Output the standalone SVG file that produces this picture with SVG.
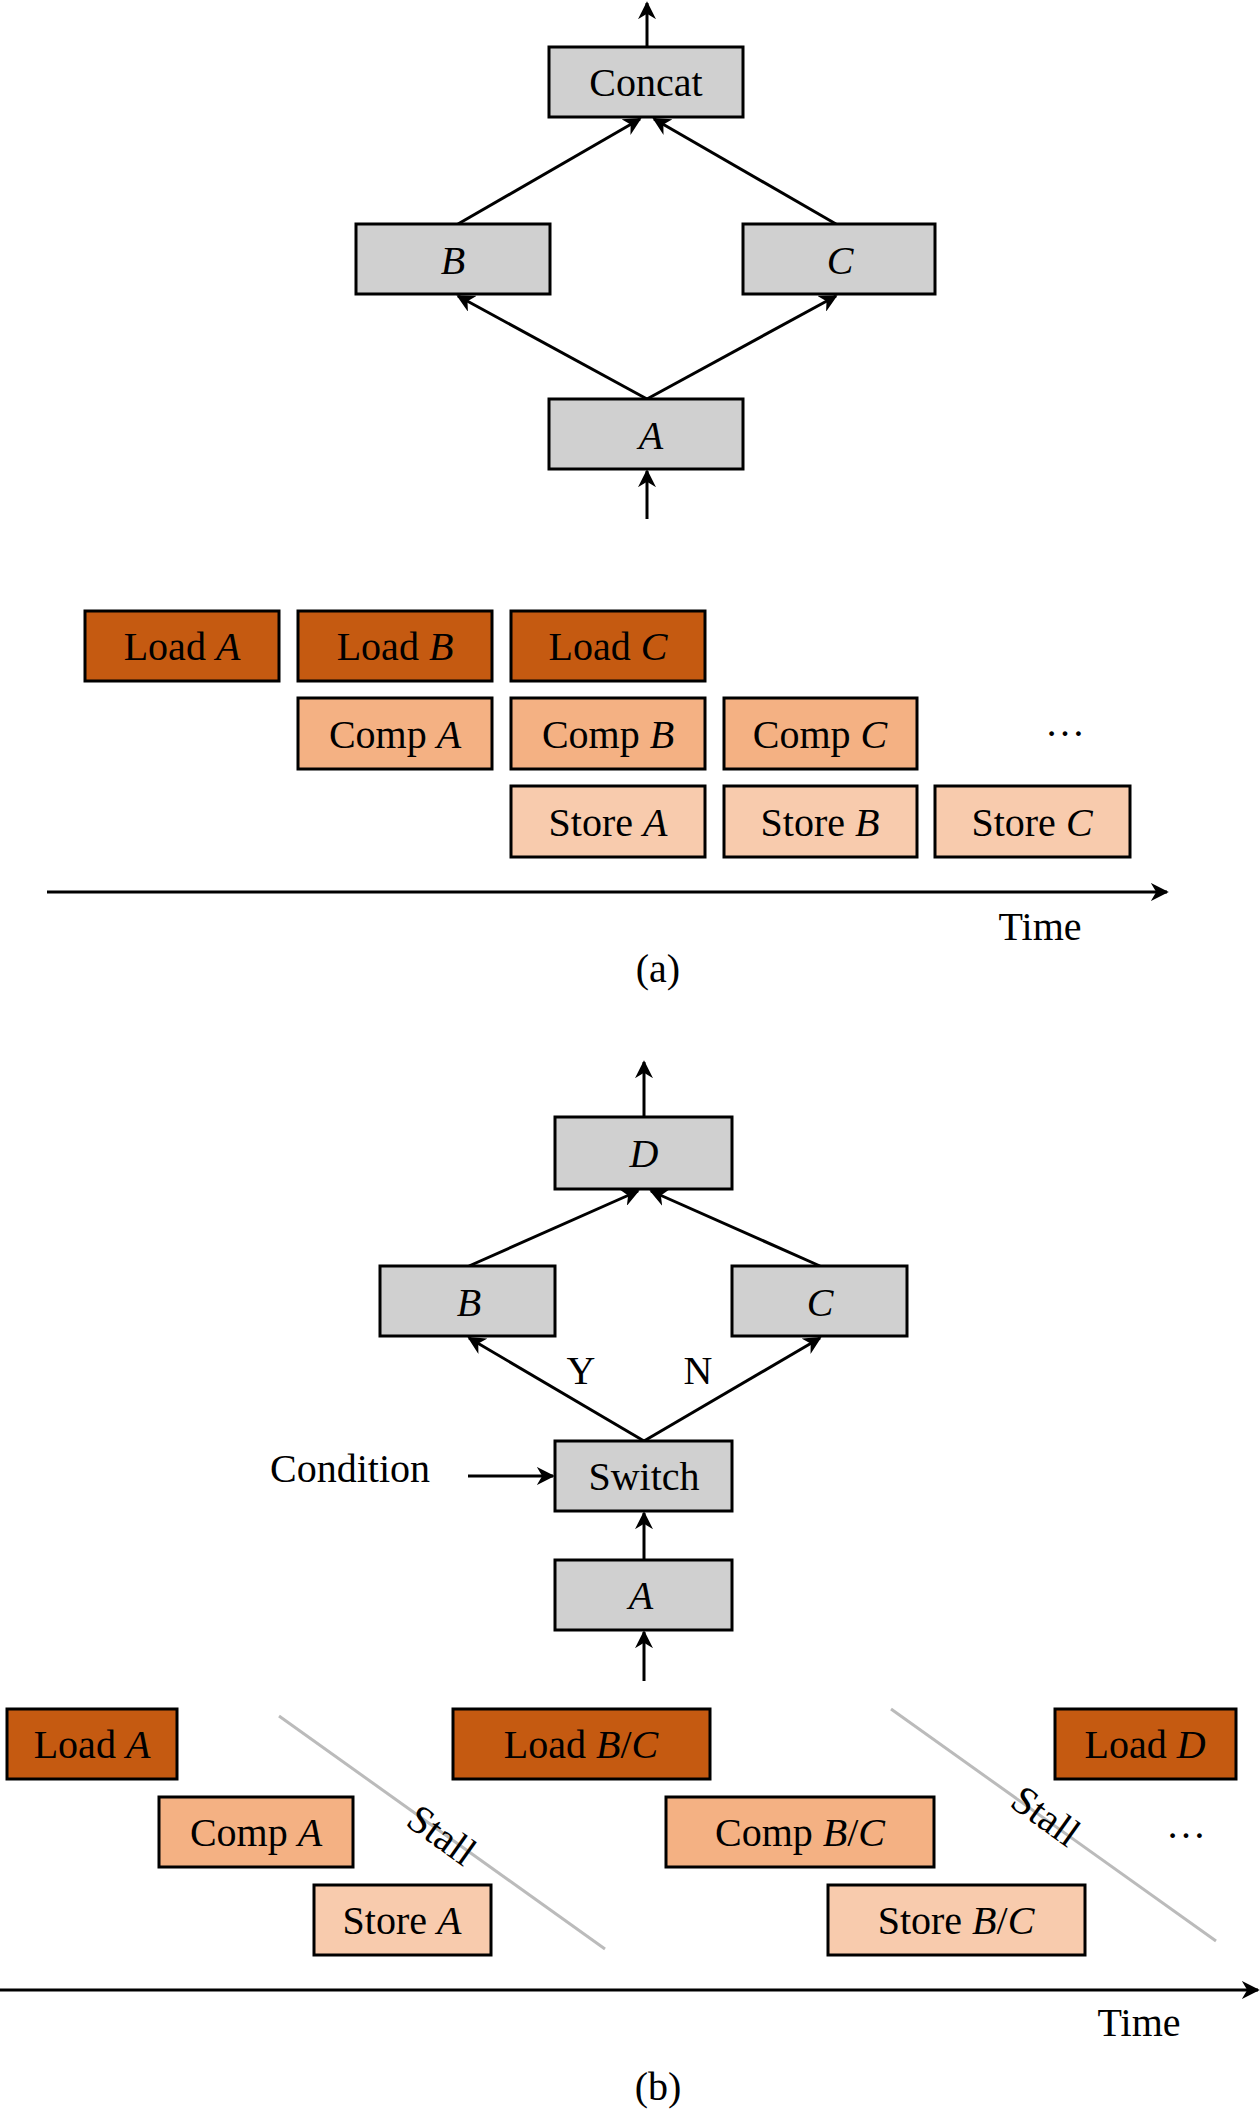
<svg xmlns="http://www.w3.org/2000/svg" width="1260" height="2115" viewBox="0 0 1260 2115">
<style>
text{font-family:"Liberation Serif","DejaVu Serif",serif;font-size:40px;fill:#000;text-anchor:middle}
.i{font-style:italic}
.n rect{stroke:#000;stroke-width:3}
.g{fill:#d0d0d0}.l{fill:#c55a11}.c{fill:#f4b183}.s{fill:#f8cbad}
.e{stroke:#000;stroke-width:3;fill:none;marker-end:url(#a)}
.st{stroke:#bbb;stroke-width:3}
</style>
<defs><marker id="a" viewBox="0 0 10 10" refX="9" refY="5" markerWidth="6" markerHeight="6" orient="auto"><path d="M0,0L10,5L0,10L3,5z"/></marker></defs>
<g id="connectors">
<line class="e" x1="647" y1="47" x2="647" y2="3"/>
<line class="e" x1="647" y1="519" x2="647" y2="471"/>
<line class="e" x1="647" y1="399" x2="458" y2="296"/>
<line class="e" x1="647" y1="399" x2="836" y2="296"/>
<line class="e" x1="458" y1="224" x2="640" y2="119"/>
<line class="e" x1="836" y1="224" x2="654" y2="119"/>
<line class="e" x1="47" y1="892" x2="1167" y2="892"/>
<line class="e" x1="644" y1="1117" x2="644" y2="1062"/>
<line class="e" x1="644" y1="1441" x2="469" y2="1338"/>
<line class="e" x1="644" y1="1441" x2="820" y2="1338"/>
<line class="e" x1="469" y1="1266" x2="638" y2="1191"/>
<line class="e" x1="820" y1="1266" x2="651" y2="1191"/>
<line class="e" x1="644" y1="1560" x2="644" y2="1513"/>
<line class="e" x1="644" y1="1681" x2="644" y2="1632"/>
<line class="e" x1="468" y1="1476" x2="553" y2="1476"/>
<line class="e" x1="0" y1="1990" x2="1258" y2="1990"/>
<line class="st" x1="279" y1="1716" x2="605" y2="1949"/>
<line class="st" x1="891" y1="1709" x2="1216" y2="1941"/>
</g>
<g id="concat" class="n"><rect class="g" x="549" y="47" width="194" height="70"/><text x="646" y="96">Concat</text></g>
<g id="nB" class="n"><rect class="g" x="356" y="224" width="194" height="70"/><text x="453" y="274" class="i">B</text></g>
<g id="nC" class="n"><rect class="g" x="743" y="224" width="192" height="70"/><text x="840" y="274" class="i">C</text></g>
<g id="nA" class="n"><rect class="g" x="549" y="399" width="194" height="70"/><text x="651" y="449" class="i">A</text></g>
<g id="loadA" class="n"><rect class="l" x="85" y="611" width="194" height="70"/><text x="182" y="660">Load <tspan class="i">A</tspan></text></g>
<g id="loadB" class="n"><rect class="l" x="298" y="611" width="194" height="70"/><text x="395" y="660">Load <tspan class="i">B</tspan></text></g>
<g id="loadC" class="n"><rect class="l" x="511" y="611" width="194" height="70"/><text x="608" y="660">Load <tspan class="i">C</tspan></text></g>
<g id="compA" class="n"><rect class="c" x="298" y="698" width="194" height="71"/><text x="395" y="748">Comp <tspan class="i">A</tspan></text></g>
<g id="compB" class="n"><rect class="c" x="511" y="698" width="194" height="71"/><text x="608" y="748">Comp <tspan class="i">B</tspan></text></g>
<g id="compC" class="n"><rect class="c" x="724" y="698" width="193" height="71"/><text x="820" y="748">Comp <tspan class="i">C</tspan></text></g>
<g id="storeA" class="n"><rect class="s" x="511" y="786" width="194" height="71"/><text x="608" y="836">Store <tspan class="i">A</tspan></text></g>
<g id="storeB" class="n"><rect class="s" x="724" y="786" width="193" height="71"/><text x="820" y="836">Store <tspan class="i">B</tspan></text></g>
<g id="storeC" class="n"><rect class="s" x="935" y="786" width="195" height="71"/><text x="1032" y="836">Store <tspan class="i">C</tspan></text></g>
<text x="1065" y="736">…</text>
<text x="1040" y="940">Time</text>
<text x="658" y="982">(a)</text>
<g id="nD" class="n"><rect class="g" x="555" y="1117" width="177" height="72"/><text x="644" y="1167" class="i">D</text></g>
<g id="nB2" class="n"><rect class="g" x="380" y="1266" width="175" height="70"/><text x="469" y="1316" class="i">B</text></g>
<g id="nC2" class="n"><rect class="g" x="732" y="1266" width="175" height="70"/><text x="820" y="1316" class="i">C</text></g>
<g id="switch" class="n"><rect class="g" x="555" y="1441" width="177" height="70"/><text x="644" y="1490">Switch</text></g>
<g id="nA2" class="n"><rect class="g" x="555" y="1560" width="177" height="70"/><text x="641" y="1609" class="i">A</text></g>
<text x="581" y="1384">Y</text>
<text x="698" y="1384">N</text>
<text x="350" y="1482">Condition</text>
<g id="loadA2" class="n"><rect class="l" x="7" y="1709" width="170" height="70"/><text x="92" y="1758">Load <tspan class="i">A</tspan></text></g>
<g id="loadBC" class="n"><rect class="l" x="453" y="1709" width="257" height="70"/><text x="581" y="1758">Load <tspan class="i">B</tspan>/<tspan class="i">C</tspan></text></g>
<g id="loadD" class="n"><rect class="l" x="1055" y="1709" width="181" height="70"/><text x="1145" y="1758">Load <tspan class="i">D</tspan></text></g>
<g id="compA2" class="n"><rect class="c" x="159" y="1797" width="194" height="70"/><text x="256" y="1846">Comp <tspan class="i">A</tspan></text></g>
<g id="compBC" class="n"><rect class="c" x="666" y="1797" width="268" height="70"/><text x="800" y="1846">Comp <tspan class="i">B</tspan>/<tspan class="i">C</tspan></text></g>
<g id="storeA2" class="n"><rect class="s" x="314" y="1885" width="177" height="70"/><text x="402" y="1934">Store <tspan class="i">A</tspan></text></g>
<g id="storeBC" class="n"><rect class="s" x="828" y="1885" width="257" height="70"/><text x="956" y="1934">Store <tspan class="i">B</tspan>/<tspan class="i">C</tspan></text></g>
<text x="0" y="0" transform="translate(441,1836) rotate(35.6)" dy="12">Stall</text>
<text x="0" y="0" transform="translate(1045,1817) rotate(35.6)" dy="12">Stall</text>
<text x="1186" y="1838">…</text>
<text x="1139" y="2036">Time</text>
<text x="658" y="2100">(b)</text>
</svg>
